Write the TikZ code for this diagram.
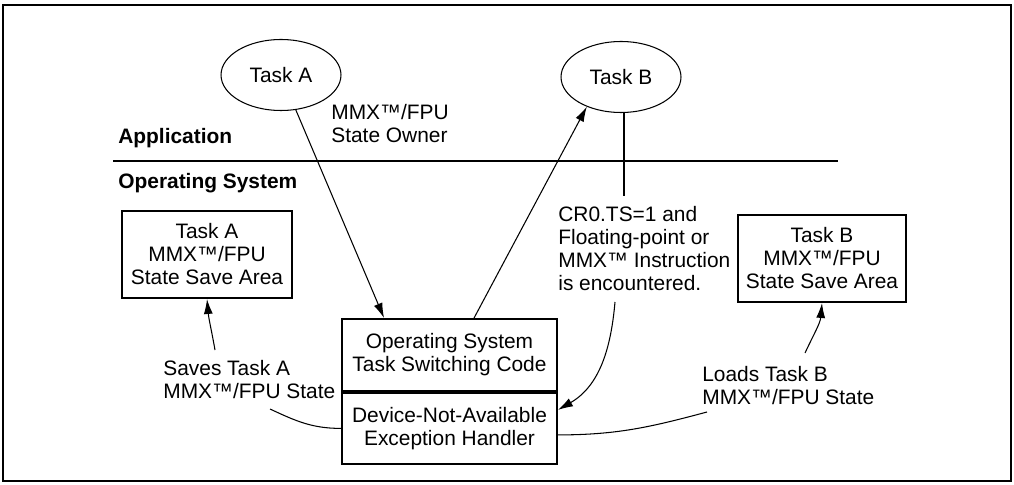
\documentclass[tikz,border=0pt]{standalone}
\usepackage{fontspec}
\setmainfont{Liberation Sans}
\usepackage{tikz}
\usetikzlibrary{arrows.meta,positioning,shapes.geometric,calc}
\tikzset{every node/.append style={font=\fontsize{11.9}{13.1}\selectfont}}

\begin{document}
\begin{tikzpicture}[x=0.02cm,y=0.02cm,
  bx/.style={draw,line width=1.1pt,align=center,inner sep=0pt,minimum width=3.4cm,minimum height=1.74cm},
  tk/.style={draw,ellipse,line width=0.6pt,inner sep=0pt,minimum width=2.4cm,minimum height=1.42cm},
  t/.style={align=left,anchor=west,inner sep=0pt},
  ln/.style={line width=0.6pt},
  ar/.style={ln,-{Latex[length=3mm,width=1.8mm]}}]
\useasboundingbox (0,0) rectangle (1014,484);
\draw[line width=1.1pt] (3,3) rectangle (1011,479);
% tasks on the application side
\node[tk] (ta) at (281,409) {Task A};
\node[tk] (tb) at (621,407) {Task B};
\node[t] (own) at (331,360.5) {MMX™/FPU\\State Owner};
\node[t] (app) at (118,346) {\bfseries Application};
\node[t] (osl) at (118,301) {\bfseries Operating System};
\coordinate (l1) at (113,323);
\coordinate (l2) at (838,323);
\draw[line width=1.1pt] (l1) -- (l2);
% save areas and handler
\node[bx] (sa) at (207,229.5) {Task A\\MMX™/FPU\\State Save Area};
\node[bx,minimum width=3.36cm] (sb) at (822,225.5) {Task B\\MMX™/FPU\\State Save Area};
\node[bx,minimum width=4.3cm,minimum height=1.44cm] (os) at (449.5,129) {Operating System\\Task Switching Code};
\node[bx,minimum width=4.3cm,minimum height=1.42cm,anchor=north] (dna) at (os.south) {Device-Not-Available\\Exception Handler};
\node[t] (cr) at (558,235.5) {CR0.TS=1 and\\Floating-point or\\MMX™ Instruction\\is encountered.};
\node[t] (sv) at (163,104) {Saves Task A\\MMX™/FPU State};
\node[t] (ld) at (702,98.5) {Loads Task B\\MMX™/FPU State};
\coordinate (c1) at (624,288);
\coordinate (c2) at (615,182);
\coordinate (c3) at (270,75);
\coordinate (c4) at (215,134);
\coordinate (c5) at (707,72);
\coordinate (c6) at (805,131);
% connectors
\draw[ar] (ta.-67) -- ([xshift=0.86cm]os.north west);
\draw[ar] ([xshift=2.66cm]os.north west) -- (tb.-139);
\draw[ln] (c1 |- tb.south) -- (c1);
\draw[ar] (c2) to[out=-95,in=30] ([yshift=0.37cm]dna.east);
\draw[ln] (dna.west) to[out=180,in=-25] (c3);
\draw[ar] (c4) to[out=100,in=-85] (sa.south);
\draw[ln] ([yshift=-0.13cm]dna.east) to[out=0,in=-165] (c5);
\draw[ar] (c6) to[out=65,in=-95] (sb.south);
\end{tikzpicture}
\end{document}
